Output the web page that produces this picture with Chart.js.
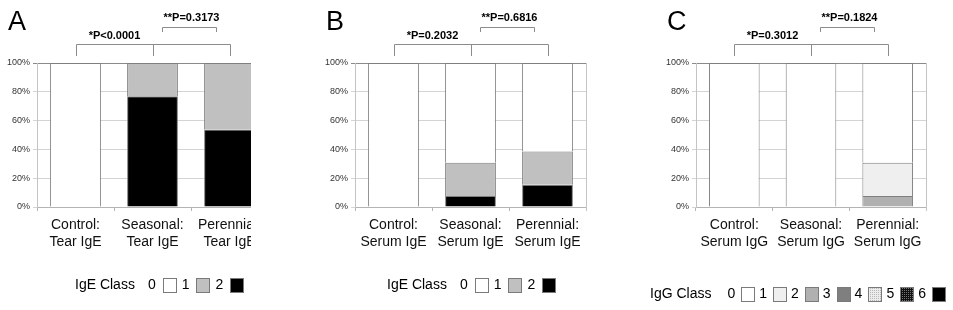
<!DOCTYPE html>
<html>
<head>
<meta charset="utf-8">
<script src="https://cdn.jsdelivr.net/npm/chart.js@4.4.1/dist/chart.umd.min.js"></script>
<style>
  * { margin: 0; padding: 0; box-sizing: border-box; }
  body { width: 953px; height: 310px; background: #fff; overflow: hidden; position: relative; }
  .panel { position: absolute; top: 0; height: 310px; overflow: hidden; }
  canvas { display: block; }
</style>
</head>
<body>
<div class="panel" style="left:0;width:251px"><canvas id="chartA" width="300" height="310"></canvas></div>
<div class="panel" style="left:315px;width:320px"><canvas id="chartB" width="320" height="310"></canvas></div>
<div class="panel" style="left:640px;width:313px"><canvas id="chartC" width="313" height="310"></canvas></div>
<script>
// --- data (percent of subjects per class) ---
const tearCategories = [['Control:', 'Tear IgE'], ['Seasonal:', 'Tear IgE'], ['Perennial:', 'Tear IgE']];
const serumIgECategories = [['Control:', 'Serum IgE'], ['Seasonal:', 'Serum IgE'], ['Perennial:', 'Serum IgE']];
const serumIgGCategories = [['Control:', 'Serum IgG'], ['Seasonal:', 'Serum IgG'], ['Perennial:', 'Serum IgG']];

const tearIgE0 = [100, 0, 0];
const tearIgE1 = [0, 23.1, 46.2];
const tearIgE2 = [0, 76.9, 53.8];

const serumIgE0 = [100, 69.2, 61.5];
const serumIgE1 = [0, 23.1, 23.1];
const serumIgE2 = [0, 7.7, 15.4];

const serumIgG0 = [100, 100, 69.2];
const serumIgG1 = [0, 0, 23.1];
const serumIgG2 = [0, 0, 7.7];

const igeClasses = ['0', '1', '2'];
const iggClasses = ['0', '1', '2', '3', '4', '5', '6'];

const pValuesA = ['*P<0.0001', '**P=0.3173'];
const pValuesB = ['*P=0.2032', '**P=0.6816'];
const pValuesC = ['*P=0.3012', '**P=0.1824'];

const yTickStep = 20;

// --- styles ---
const SANS = '"Liberation Sans", Arial, sans-serif';

function makePattern(bg, fg, step) {
  const c = document.createElement('canvas');
  c.width = step; c.height = step;
  const g = c.getContext('2d');
  g.fillStyle = bg; g.fillRect(0, 0, step, step);
  g.fillStyle = fg; g.fillRect(0, 0, 1, 1);
  if (step > 2) g.fillRect(Math.floor(step / 2), Math.floor(step / 2), 1, 1);
  return c.getContext('2d').createPattern(c, 'repeat');
}

const igeColors = ['#ffffff', '#c0c0c0', '#000000'];
const iggColors = ['#ffffff', '#efefef', '#b0b0b0', '#7f7f7f',
  makePattern('#ececec', '#b8b8b8', 2), makePattern('#111111', '#777777', 2), '#000000'];

const decorPlugin = {
  id: 'decor',
  afterDraw(chart, args, o) {
    const {ctx, chartArea: a, scales: {x}} = chart;
    const c0 = Math.round(x.getPixelForValue(0));
    const c1 = Math.round(x.getPixelForValue(1));
    const c2 = Math.round(x.getPixelForValue(2));
    ctx.save();
    ctx.lineWidth = 1;

    // right border of plot area
    ctx.strokeStyle = '#c4c4c4';
    ctx.beginPath();
    ctx.moveTo(Math.round(a.right) + 0.5, a.top);
    ctx.lineTo(Math.round(a.right) + 0.5, a.bottom + 4);
    ctx.stroke();

    // panel letter
    ctx.fillStyle = '#000';
    ctx.textBaseline = 'middle';
    ctx.textAlign = 'left';
    ctx.font = '27px ' + SANS;
    ctx.fillText(o.letter, a.left - 29, 23);

    // brackets
    ctx.strokeStyle = '#8c8c8c';
    ctx.beginPath();
    ctx.moveTo(c0 + 0.5, 56); ctx.lineTo(c0 + 0.5, 44.5);
    ctx.lineTo(c2 + 0.5, 44.5); ctx.lineTo(c2 + 0.5, 56);
    ctx.moveTo(c1 + 0.5, 44.5); ctx.lineTo(c1 + 0.5, 56);
    const m = Math.round((c1 + c2) / 2 - 3), h = 27;
    ctx.moveTo(m - h + 0.5, 32); ctx.lineTo(m - h + 0.5, 27.5);
    ctx.lineTo(m + h + 0.5, 27.5); ctx.lineTo(m + h + 0.5, 32);
    ctx.stroke();

    ctx.textAlign = 'center';
    ctx.font = 'bold 11px ' + SANS;
    ctx.fillText(o.pValues[0], (c0 + c1) / 2, 36);
    ctx.fillText(o.pValues[1], (c1 + c2) / 2, 18);

    // legend: "IgE Class  0 [] 1 [] 2 []"
    ctx.textAlign = 'left';
    ctx.font = '14px ' + SANS;
    ctx.fillStyle = '#000';
    let lx = a.left + o.legendOffset;
    const ly = o.legendY;
    ctx.fillText(o.legendTitle, lx, ly);
    lx += ctx.measureText(o.legendTitle).width + o.titleGap;
    o.classes.forEach((cls, i) => {
      ctx.fillStyle = '#000';
      ctx.fillText(cls, lx, ly);
      lx += ctx.measureText(cls).width + o.boxGap;
      const bx = Math.round(lx), by = Math.round(ly - 7);
      ctx.fillStyle = o.colors[i];
      ctx.fillRect(bx, by, 14, 15);
      ctx.strokeStyle = '#7a7a7a';
      ctx.strokeRect(bx + 0.5, by + 0.5, 13, 14);
      lx += 14 + o.itemGap;
    });
    ctx.restore();
  }
};

function makeChart(id, categories, series, colors, target, decor) {
  const datasets = series.map((vals, i) => ({
    label: 'Class ' + i,
    data: vals,
    backgroundColor: colors[i],
    borderColor: '#7f7f7f',
    borderWidth: 1,
    borderSkipped: 'start',
  })).reverse(); // highest class at the bottom of the stack

  let padding = {left: 0, right: 0, top: 60, bottom: 50};
  const chart = new Chart(document.getElementById(id), {
    type: 'bar',
    data: {labels: categories, datasets},
    options: {
      responsive: false,
      animation: false,
      devicePixelRatio: 1,
      layout: {padding},
      datasets: {bar: {categoryPercentage: 1.0, barPercentage: 0.66}},
      plugins: {legend: {display: false}, tooltip: {enabled: false}, decor},
      scales: {
        x: {
          stacked: true,
          afterFit: s => { s.height = 50; },
          grid: {offset: true, drawOnChartArea: false, tickLength: 4, color: '#b4b4b4'},
          border: {color: '#b4b4b4'},
          ticks: {color: '#111', padding: 6, font: {family: SANS, size: 14, lineHeight: 1.2}, maxRotation: 0, autoSkip: false},
        },
        y: {
          stacked: true,
          min: 0, max: 100,
          afterFit: s => { s.width = 36; },
          grid: {
            tickLength: 4,
            color: c => (c.tick && c.tick.value === 100 ? '#8a8a8a' : '#d4d4d4'),
          },
          border: {color: '#c4c4c4'},
          ticks: {stepSize: yTickStep, padding: 3, color: '#333', font: {family: SANS, size: 9}, callback: v => v + '%'},
        },
      },
    },
    plugins: [decorPlugin],
  });

  // nudge the layout so the plot area lands where the reference has it
  const a = chart.chartArea;
  padding = {
    left: padding.left + target.left - a.left,
    right: padding.right + a.right - target.right,
    top: padding.top + target.top - a.top,
    bottom: padding.bottom + a.bottom - target.bottom,
  };
  chart.options.layout.padding = padding;
  chart.update('none');
  return chart;
}

makeChart('chartA', tearCategories, [tearIgE0, tearIgE1, tearIgE2], igeColors,
  {left: 37, right: 268, top: 63, bottom: 207},
  {letter: 'A', pValues: pValuesA, legendTitle: 'IgE Class', classes: igeClasses, colors: igeColors,
   legendOffset: 38, legendY: 285, titleGap: 13, boxGap: 7, itemGap: 5});

makeChart('chartB', serumIgECategories, [serumIgE0, serumIgE1, serumIgE2], igeColors,
  {left: 40, right: 271, top: 63, bottom: 207},
  {letter: 'B', pValues: pValuesB, legendTitle: 'IgE Class', classes: igeClasses, colors: igeColors,
   legendOffset: 32, legendY: 285, titleGap: 13, boxGap: 7, itemGap: 5});

makeChart('chartC', serumIgGCategories, [serumIgG0, serumIgG1, serumIgG2], iggColors.slice(0, 3),
  {left: 56, right: 286, top: 63, bottom: 207},
  {letter: 'C', pValues: pValuesC, legendTitle: 'IgG Class', classes: iggClasses, colors: iggColors,
   legendOffset: -46, legendY: 294, titleGap: 16, boxGap: 6, itemGap: 4});
</script>
</body>
</html>
